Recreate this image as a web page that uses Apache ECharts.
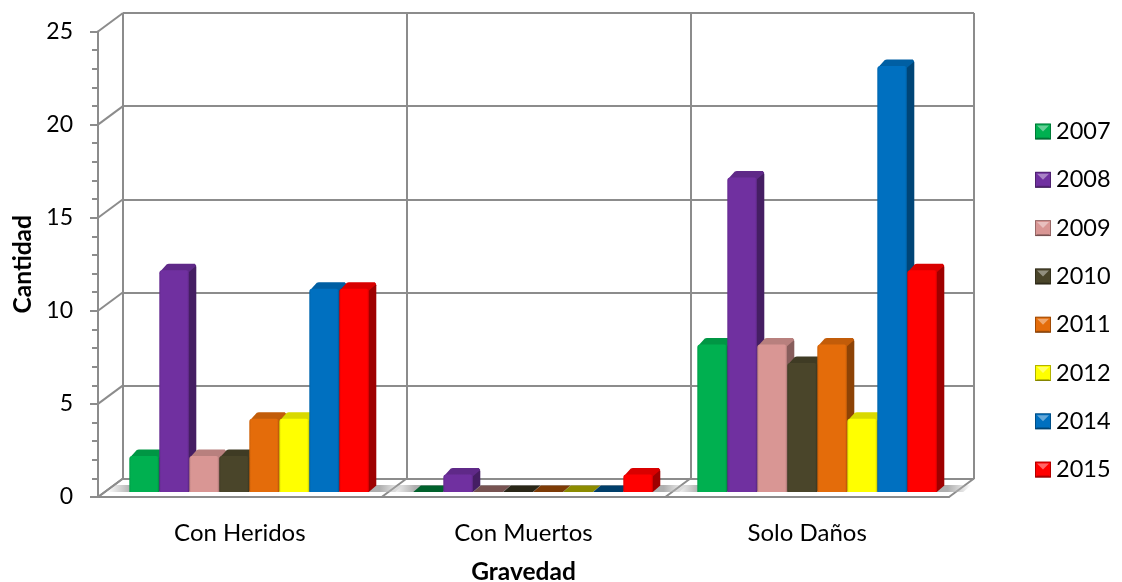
<!DOCTYPE html>
<html>
<head>
<meta charset="utf-8">
<style>html,body{margin:0;padding:0;background:#fff}#c{width:1122px;height:582px}</style>
<script src="https://cdn.jsdelivr.net/npm/echarts@6/dist/echarts.min.js"></script>
</head>
<body>
<div id="c"></div>
<script>
const categories = ['Con Heridos', 'Con Muertos', 'Solo Daños'];
const years = ['2007', '2008', '2009', '2010', '2011', '2012', '2014', '2015'];
const conHeridos = [2, 12, 2, 2, 4, 4, 11, 11];
const conMuertos = [0, 1, 0, 0, 0, 0, 0, 1];
const soloDanos = [8, 17, 8, 7, 8, 4, 23, 12];
const yearColors = ['#00B050', '#7030A0', '#D99694', '#4A452A', '#E46C0A', '#FFFF00', '#0070C0', '#FF0000'];
const wallTicks = [0, 5, 10, 15, 20, 25];
const boundaries = [0, 1, 2, 3];

const FONT = 'Lato';
const GRID = '#8c8c8c';
const DX = 7.5, DY = 6.5, BAR = 30;

function shade(hex, f) {
  const n = parseInt(hex.slice(1), 16);
  const c = [n >> 16, (n >> 8) & 255, n & 255].map(v => Math.round(v * f));
  return 'rgb(' + c.join(',') + ')';
}

function barRenderer(seriesIdx) {
  const col = yearColors[seriesIdx];
  return function (params, api) {
    const top = api.coord([api.value(0), api.value(1)]);
    const base = api.coord([api.value(0), 0]);
    const x = top[0] - 4 * BAR + seriesIdx * BAR, y = top[1] + 1, yb = base[1];
    const w = BAR - 0.5;
    if (api.value(1) === 0) {
      return {
        type: 'polygon',
        shape: { points: [[x, yb], [x + DX, yb - DY], [x + w + DX, yb - DY], [x + w, yb]] },
        style: { fill: shade(col, 0.55) }
      };
    }
    return {
      type: 'group',
      children: [
        {
          type: 'polygon',
          shape: { points: [[x + w - 1, y + 1], [x + w + DX - 1, y - DY + 1], [x + w + DX, y - DY + 3], [x + w + DX, yb - DY], [x + w, yb], [x + w - 1, yb]] },
          style: { fill: shade(col, 0.62) }
        },
        {
          type: 'polygon',
          shape: { points: [[x + 0.5, y + 2], [x + 2.5, y - 0.5], [x + DX, y - DY + 0.5], [x + DX + 2, y - DY], [x + w + DX - 1.5, y - DY], [x + w + DX, y - DY + 2], [x + w + 1, y + 1], [x + w - 1, y + 3], [x + 1, y + 3]] },
          style: { fill: shade(col, 0.85) }
        },
        {
          type: 'rect',
          shape: { x: x, y: y, width: w, height: yb - y, r: [3, 3, 0, 0] },
          style: {
            fill: {
              type: 'linear', x: 0, y: 0, x2: 1, y2: 0,
              colorStops: [
                { offset: 0, color: shade(col, 0.9) },
                { offset: 0.07, color: col },
                { offset: 0.93, color: col },
                { offset: 1, color: shade(col, 0.9) }
              ]
            }
          }
        }
      ]
    };
  };
}

function hiddenAxisParts() {
  return { axisLine: { show: false }, axisTick: { show: false }, axisLabel: { show: false } };
}

const barSeries = years.map((year, i) => ({
  name: year,
  type: 'custom',
  xAxisIndex: 2,
  yAxisIndex: 2,
  clip: false,
  z: 5,
  itemStyle: { color: yearColors[i] },
  data: [[0, conHeridos[i]], [1, conMuertos[i]], [2, soloDanos[i]]],
  encode: { x: 0, y: 1 },
  renderItem: barRenderer(i)
}));

const legendTop = 119.5, legendStep = 48.3, iconTop = 123.5;
const legendBevels = years.flatMap((y, i) => {
  const t = iconTop + i * legendStep;
  return [
    { type: 'polygon', z: 100, silent: true, shape: { points: [[1037, t + 2], [1049, t + 2], [1043, t + 8]] }, style: { fill: 'rgba(255,255,255,0.4)' } },
    { type: 'polygon', z: 100, silent: true, shape: { points: [[1035, t + 16], [1051, t + 16], [1049, t + 14], [1037, t + 14]] }, style: { fill: 'rgba(0,0,0,0.25)' } },
    { type: 'rect', z: 100, silent: true, shape: { x: 1035.5, y: t + 0.5, width: 15, height: 15 }, style: { fill: 'none', stroke: 'rgba(0,0,0,0.3)', lineWidth: 1 } }
  ];
});

const option = {
  animation: false,
  backgroundColor: '#fff',
  textStyle: { fontFamily: FONT },
  legend: {
    orient: 'vertical',
    left: 1035,
    top: legendTop,
    padding: 0,
    itemWidth: 16,
    itemHeight: 16,
    itemGap: 24.3,
    icon: 'rect',
    selectedMode: false,
    data: years,
    textStyle: { fontFamily: FONT, fontSize: 23.5, lineHeight: 16, color: '#000' }
  },
  graphic: legendBevels,
  grid: [
    { left: 98, top: 31.5, width: 851, height: 465.5, outerBoundsMode: 'none' },
    { left: 123, top: 13, width: 851, height: 466, outerBoundsMode: 'none' },
    { left: 107.3, top: 28, width: 852, height: 464, outerBoundsMode: 'none' }
  ],
  xAxis: [
    {
      gridIndex: 0, type: 'category', data: categories,
      axisLine: { lineStyle: { color: GRID, width: 2 } },
      axisTick: { show: false },
      axisLabel: { color: '#000', fontFamily: FONT, fontSize: 24, margin: 24 },
      name: 'Gravedad', nameLocation: 'middle', nameGap: 63,
      nameTextStyle: { fontFamily: FONT, fontSize: 24.5, fontWeight: 'bold', color: '#000' }
    },
    {
      gridIndex: 1, type: 'category', data: categories, ...hiddenAxisParts(),
      splitLine: { show: true, interval: 0, lineStyle: { color: GRID, width: 2 } }
    },
    { gridIndex: 2, type: 'category', data: categories, ...hiddenAxisParts(), splitLine: { show: false } }
  ],
  yAxis: [
    {
      gridIndex: 0, type: 'value', min: 0, max: 25, interval: 5,
      axisLine: { show: true, lineStyle: { color: GRID, width: 2 } },
      axisTick: { show: true, length: 8, lineStyle: { color: GRID, width: 2 } },
      minorTick: { show: true, splitNumber: 5, length: 6, lineStyle: { color: GRID, width: 2 } },
      axisLabel: { color: '#000', fontFamily: FONT, fontSize: 23, margin: 25 },
      splitLine: { show: false },
      name: 'Cantidad', nameLocation: 'middle', nameGap: 62, nameRotate: 90,
      nameTextStyle: { fontFamily: FONT, fontSize: 24.5, fontWeight: 'bold', color: '#000' }
    },
    {
      gridIndex: 1, type: 'value', min: 0, max: 25, interval: 5, ...hiddenAxisParts(),
      splitLine: { show: true, lineStyle: { color: GRID, width: 2 } }
    },
    { gridIndex: 2, type: 'value', min: 0, max: 25, interval: 5, ...hiddenAxisParts(), splitLine: { show: false } }
  ],
  series: [
    {
      name: 'leftWall', type: 'custom', xAxisIndex: 0, yAxisIndex: 0, clip: false, z: 2,
      silent: true, data: wallTicks.map(v => [0, v]), encode: { x: 0, y: 1 },
      renderItem(params, api) {
        const y = api.coord([0, api.value(1)])[1];
        const x = params.coordSys.x;
        return { type: 'line', shape: { x1: x, y1: y, x2: x + 25, y2: y - 18.5 }, style: { stroke: GRID, lineWidth: 2 } };
      }
    },
    {
      name: 'floorLines', type: 'custom', xAxisIndex: 0, yAxisIndex: 0, clip: false, z: 2,
      silent: true, data: boundaries.map(b => [0, 0, b]), encode: { x: 0, y: 1 },
      renderItem(params, api) {
        const cs = params.coordSys;
        const x = cs.x + api.value(2) * cs.width / 3;
        const y = cs.y + cs.height;
        return { type: 'line', shape: { x1: x, y1: y, x2: x + 25, y2: y - 18.5 }, style: { stroke: GRID, lineWidth: 2 } };
      }
    },
    {
      name: 'floorShadow', type: 'custom', xAxisIndex: 2, yAxisIndex: 2, clip: false, z: 3,
      silent: true, data: categories.map((c, i) => [i, 0]), encode: { x: 0, y: 1 },
      renderItem(params, api) {
        const p = api.coord([api.value(0), 0]);
        const x0 = p[0] - 4 * BAR - 22, x1 = p[0] + 4 * BAR + 34, y = p[1];
        return {
          type: 'polygon',
          shape: { points: [[x0, y], [x0 + 8, y - 7], [x1, y - 7], [x1 - 8, y]] },
          style: {
            fill: {
              type: 'linear', x: 0, y: 0, x2: 1, y2: 0,
              colorStops: [
                { offset: 0, color: 'rgba(175,175,175,0)' },
                { offset: 0.08, color: 'rgba(175,175,175,1)' },
                { offset: 0.92, color: 'rgba(175,175,175,1)' },
                { offset: 1, color: 'rgba(175,175,175,0)' }
              ]
            }
          }
        };
      }
    },
    ...barSeries
  ]
};

const chart = echarts.init(document.getElementById('c'), null, { renderer: 'canvas' });
chart.setOption(option);
</script>
</body>
</html>
